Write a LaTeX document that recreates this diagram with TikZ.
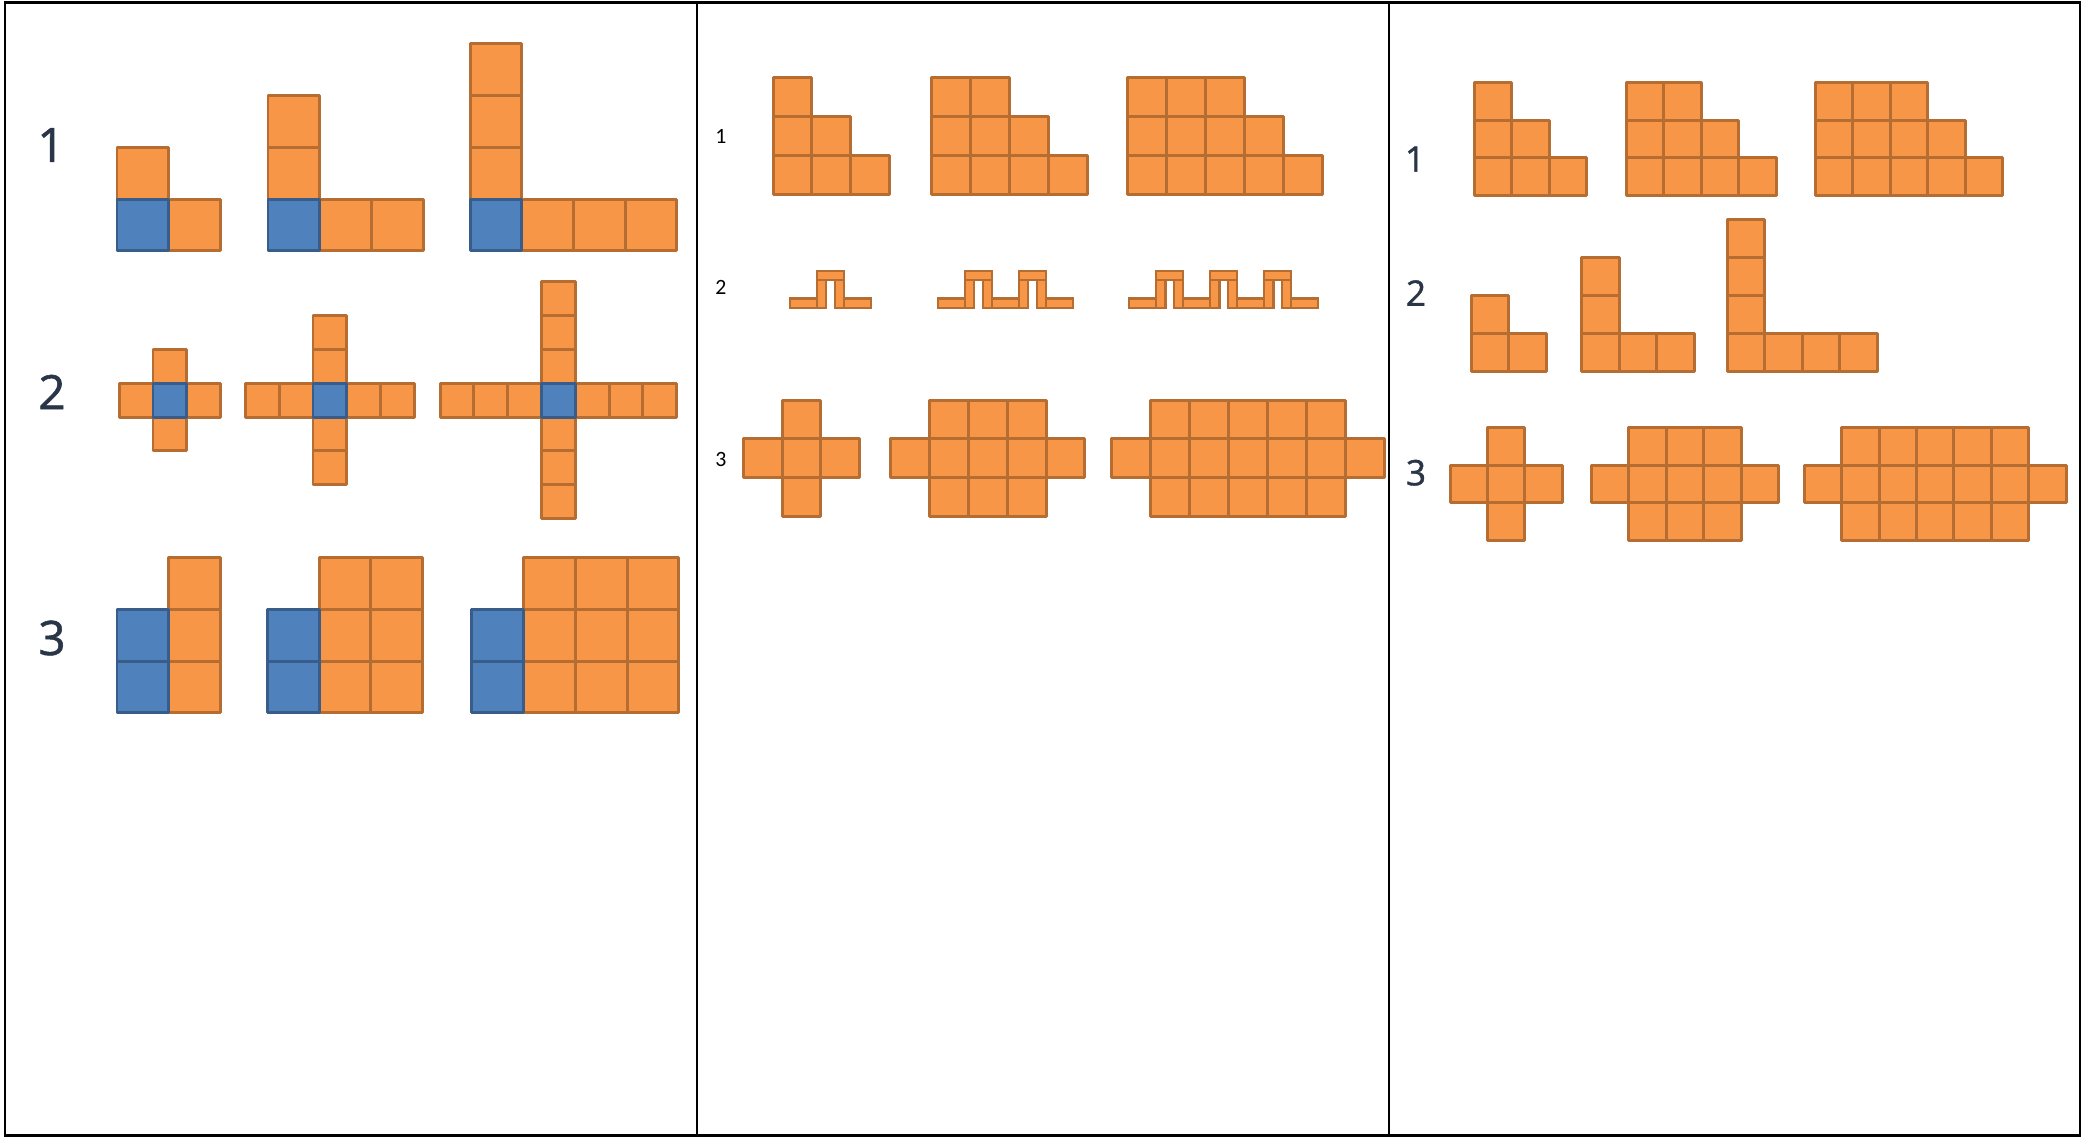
\documentclass[tikz,border=0pt]{standalone}
\usepackage{fontspec}
\newfontfamily\labfont[FakeBold=1.2]{Open Sans}
\newfontfamily\calfont{Carlito}
\definecolor{ofill}{HTML}{F79646}
\definecolor{ostroke}{HTML}{B66D31}
\definecolor{bfill}{HTML}{4F81BD}
\definecolor{bstroke}{HTML}{385D8A}
\definecolor{navy}{HTML}{2A3547}
\tikzset{
  ocell/.style={fill=ofill,draw=ostroke,line width=0.85pt,line join=round},
  bcell/.style={fill=bfill,draw=bstroke,line width=0.85pt,line join=round},
  obar/.style={fill=ofill,draw=ostroke,line width=0.65pt},
  frameline/.style={line width=0.8pt,draw=black},
  bignum/.style={font=\labfont\fontsize{13.5}{14}\selectfont,text=navy,inner sep=0pt},
  midnum/.style={font=\labfont\fontsize{10}{11}\selectfont,text=navy,inner sep=0pt},
  smallnum/.style={font=\calfont\fontsize{6.2}{7}\selectfont,text=black,inner sep=0pt}
}
\begin{document}
\begin{tikzpicture}[x=0.01cm,y=-0.01cm]
\useasboundingbox (0,0) rectangle (2082,1138);
\fill[white] (0,0) rectangle (2082,1138);
% frame
\draw[frameline] (5,2.5) rectangle (2080,1135.5);
\draw[frameline] (697,2.5) -- (697,1135.5);
\draw[frameline] (1389,2.5) -- (1389,1135.5);

% ---------- Panel 1 ----------
\node[bignum] (a1) at (51,145) {1};
\node[bignum] (a2) at (52,392) {2};
\node[bignum] (a3) at (52,638) {3};
% row 1
\foreach \k/\x in {1/117,2/268,3/470} {
  \foreach \i in {1,...,\k} {
    \draw[ocell] ({\x+\i*51.7},199) rectangle ++(51.7,51.7);
    \draw[ocell] (\x,{199-\i*51.7}) rectangle ++(51.7,51.7);
  }
  \draw[bcell] (\x,199) rectangle ++(51.7,51.7);
}
% row 2
\foreach \k/\x in {1/153,2/313,3/541.5} {
  \foreach \i in {1,...,\k} {
    \draw[ocell] ({\x-\i*33.8},383.3) rectangle ++(33.8,33.8);
    \draw[ocell] ({\x+\i*33.8},383.3) rectangle ++(33.8,33.8);
    \draw[ocell] (\x,{383.3-\i*33.8}) rectangle ++(33.8,33.8);
    \draw[ocell] (\x,{383.3+\i*33.8}) rectangle ++(33.8,33.8);
  }
  \draw[bcell] (\x,383.3) rectangle ++(33.8,33.8);
}
% row 3
\foreach \k/\x in {1/117,2/267.4,3/471.9} {
  \foreach \i in {1,...,\k} {
    \foreach \j in {0,1,2} {
      \draw[ocell] ({\x+\i*51.7},{557.7+\j*51.7}) rectangle ++(51.7,51.7);
    }
  }
  \draw[bcell] (\x,{557.7+51.7}) rectangle ++(51.7,51.7);
  \draw[bcell] (\x,{557.7+103.4}) rectangle ++(51.7,51.7);
}

% ---------- Panel 2 ----------
\node[smallnum] (b1) at (721,136) {1};
\node[smallnum] (b2) at (721,287.5) {2};
\node[smallnum] (b3) at (721,459) {3};
% row 1 staircases
\foreach \k/\x in {1/773,2/931.5,3/1127.5} {
  \foreach \r in {0,1,2} {
    \pgfmathtruncatemacro\nn{\k+\r-1}
    \foreach \c in {0,...,\nn} {
      \draw[ocell] ({\x+\c*38.9},{77.9+\r*38.9}) rectangle ++(38.9,38.9);
    }
  }
}
% row 2 humps
\foreach \n/\x in {1/789.9,2/938,3/1129.3} {
  \draw[obar] (\x,298.5) rectangle ++(27,9.8);
  \foreach \i in {1,...,\n} {
    \pgfmathsetmacro\hx{\x+27+(\i-1)*54}
    \draw[obar] ({\hx+27},298.5) rectangle ++(27,9.8);
    \draw[obar] (\hx,280) rectangle ++(9.2,28.3);
    \draw[obar] ({\hx+17.8},280) rectangle ++(9.2,28.3);
    \draw[obar] (\hx,270.7) rectangle ++(27,9.3);
  }
}
% row 3
\foreach \m/\x in {1/782,3/929.3,5/1150.7} {
  \foreach \r in {0,1,2} {
    \foreach \c in {1,...,\m} {
      \draw[ocell] ({\x+(\c-1)*38.9},{400+\r*38.9}) rectangle ++(38.9,38.9);
    }
  }
  \draw[ocell] ({\x-38.9},438.9) rectangle ++(38.9,38.9);
  \draw[ocell] ({\x+\m*38.9},438.9) rectangle ++(38.9,38.9);
}

% ---------- Panel 3 ----------
\node[midnum] (c1) at (1415,159) {1};
\node[midnum] (c2) at (1416,293) {2};
\node[midnum] (c3) at (1416,472.7) {3};
% row 1 staircases
\foreach \k/\x in {1/1474,2/1626.2,3/1815.2} {
  \foreach \r in {0,1,2} {
    \pgfmathtruncatemacro\nn{\k+\r-1}
    \foreach \c in {0,...,\nn} {
      \draw[ocell] ({\x+\c*37.5},{82.5+\r*37.6}) rectangle ++(37.5,37.6);
    }
  }
}
% row 2 L shapes
\foreach \k/\x in {1/1471.3,2/1581.5,3/1727} {
  \foreach \c in {0,...,\k} {
    \draw[ocell] ({\x+\c*37.6},333.5) rectangle ++(37.6,38);
  }
  \foreach \j in {1,...,\k} {
    \draw[ocell] (\x,{333.5-\j*38}) rectangle ++(37.6,38);
  }
}
% row 3
\foreach \m/\x in {1/1487.4,3/1628.9,5/1841.6} {
  \foreach \r in {0,1,2} {
    \foreach \c in {1,...,\m} {
      \draw[ocell] ({\x+(\c-1)*37.4},{427.5+\r*37.6}) rectangle ++(37.4,37.6);
    }
  }
  \draw[ocell] ({\x-37.4},465.1) rectangle ++(37.4,37.6);
  \draw[ocell] ({\x+\m*37.4},465.1) rectangle ++(37.4,37.6);
}
\end{tikzpicture}
\end{document}
